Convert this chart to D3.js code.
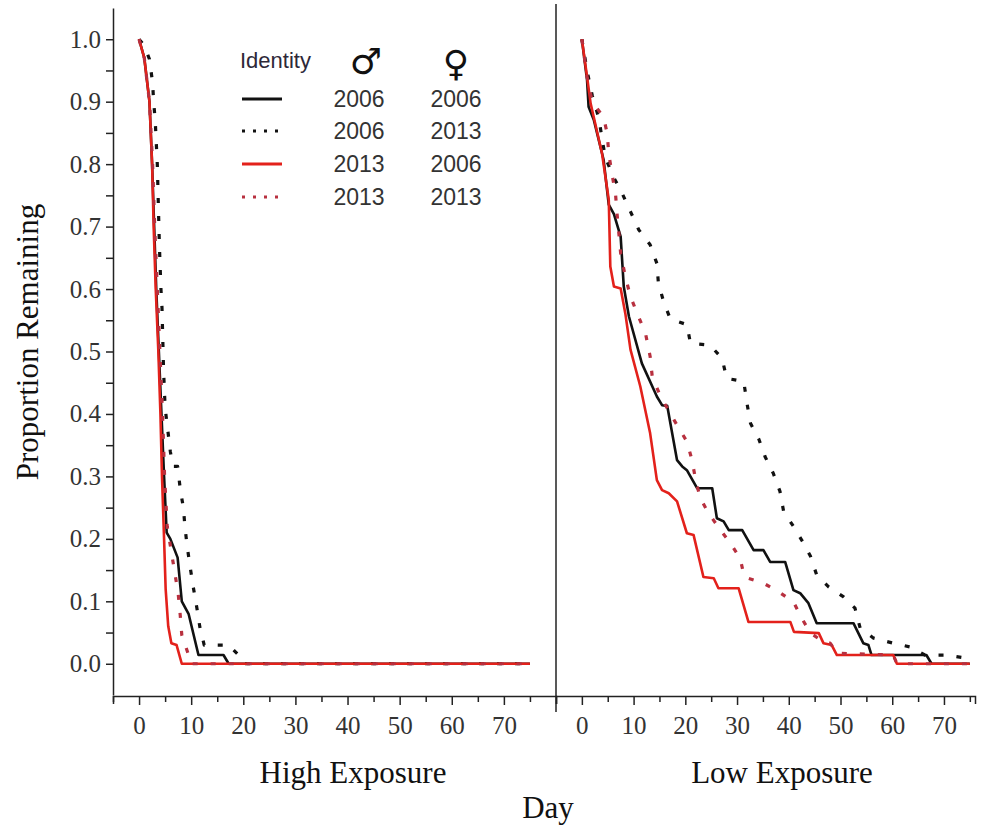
<!DOCTYPE html>
<html>
<head>
<meta charset="utf-8">
<script src="https://cdn.jsdelivr.net/npm/d3@7"></script>
<style>
  body { margin: 0; background: #fff; }
  .tick text { font-family: "Liberation Serif", serif; font-size: 25px; fill: #333; }
  .axis path, .axis line { stroke: #222; stroke-width: 1.5; }
</style>
</head>
<body>
<div id="chart"></div>
<script>
// survival curves: [day, proportion remaining]
var highSolidBlack = [[0,1],[1,0.97],[2,0.9],[2.5,0.8],[2.9,0.7],[3.3,0.6],[3.8,0.5],[4.3,0.4],[4.8,0.3],[5.3,0.21],[6,0.2],[7.4,0.17],[8.2,0.1],[9.5,0.08],[11.4,0.014],[16.2,0.014],[17.2,0],[75,0]];
var highDotBlack = [[0,1],[1,0.99],[2,0.968],[2.6,0.93],[2.8,0.9],[3.1,0.87],[3.5,0.8],[3.7,0.735],[3.9,0.67],[4.2,0.6],[4.4,0.57],[4.7,0.47],[5,0.41],[6,0.34],[6.5,0.316],[7.4,0.316],[7.9,0.28],[8.5,0.25],[8.8,0.22],[9.2,0.19],[9.8,0.155],[10.4,0.123],[11.1,0.089],[11.7,0.057],[12.5,0.03],[17.2,0.03],[19.7,0.009],[20.3,0],[75,0]];
var highSolidRed = [[0,1],[1,0.97],[2,0.9],[2.5,0.8],[2.8,0.7],[3.2,0.6],[3.7,0.5],[4.1,0.4],[4.4,0.3],[4.8,0.2],[5.1,0.12],[5.6,0.06],[6.2,0.033],[7.2,0.03],[8.2,0],[75,0]];
var highDotRed = [[0,1],[1,0.97],[2,0.9],[2.6,0.8],[3,0.7],[3.5,0.6],[4,0.5],[4.5,0.4],[4.9,0.3],[5.4,0.22],[6.3,0.174],[7.5,0.113],[7.9,0.078],[8.2,0.046],[9.5,0.014],[10,0],[75,0]];

var lowSolidBlack = [[0,1],[1,0.935],[1.3,0.892],[2.3,0.871],[4.2,0.807],[5.2,0.735],[6.2,0.72],[7.5,0.684],[8.1,0.604],[9.1,0.556],[11.6,0.481],[14.5,0.428],[15.5,0.414],[16.5,0.413],[18.4,0.326],[19.4,0.316],[20.3,0.31],[22.3,0.281],[25.2,0.281],[26.1,0.233],[27.4,0.228],[28.4,0.214],[31,0.214],[33.2,0.182],[35.1,0.182],[36.4,0.163],[39.3,0.163],[40.9,0.118],[42.2,0.113],[43.8,0.097],[45.4,0.065],[52.5,0.065],[54.4,0.033],[55.4,0.03],[56,0.014],[66.6,0.014],[67.6,0],[75,0]];
var lowDotBlack = [[0,1],[1,0.95],[2,0.91],[3.3,0.873],[3.9,0.841],[4.5,0.812],[5.9,0.783],[7.8,0.753],[9.4,0.724],[11,0.695],[13.2,0.671],[14.5,0.641],[14.8,0.609],[15.8,0.58],[17.1,0.552],[20.3,0.543],[21,0.513],[24.8,0.51],[27.1,0.489],[28,0.457],[31.3,0.452],[31.9,0.418],[32.6,0.385],[34.2,0.36],[35.4,0.332],[37,0.305],[38.3,0.276],[39,0.244],[40.9,0.22],[42.5,0.198],[44.2,0.172],[45.4,0.142],[47.7,0.123],[50.6,0.107],[52.8,0.089],[53.8,0.057],[56.4,0.041],[60.2,0.033],[63.4,0.027],[66.3,0.014],[70.5,0.014],[74.4,0.009]];
var lowSolidRed = [[0,1],[1,0.94],[1.7,0.897],[3.9,0.817],[5.2,0.743],[5.5,0.636],[6.2,0.604],[7.5,0.601],[8.4,0.561],[9.4,0.503],[11.3,0.444],[13.2,0.369],[14.5,0.294],[15.5,0.278],[16.8,0.273],[18.4,0.26],[20.3,0.209],[21.6,0.206],[23.5,0.139],[25.5,0.137],[26.4,0.121],[30.3,0.121],[32.2,0.067],[40.3,0.067],[41,0.051],[45.8,0.049],[46.7,0.033],[48.3,0.03],[49.3,0.014],[60.2,0.014],[60.9,0],[75,0]];
var lowDotRed = [[0,1],[1,0.94],[2,0.9],[4.2,0.875],[4.9,0.849],[5.2,0.817],[5.8,0.785],[6.5,0.753],[6.8,0.721],[7.5,0.657],[8.4,0.62],[9.4,0.588],[10.7,0.561],[12.3,0.529],[13.2,0.492],[13.6,0.46],[15.2,0.428],[16.8,0.405],[18.4,0.382],[20.3,0.356],[21.3,0.326],[22,0.294],[22.9,0.265],[24.5,0.241],[26.8,0.214],[28.7,0.193],[30.6,0.169],[31.4,0.139],[35.1,0.129],[38.1,0.115],[40.9,0.099],[42.5,0.073],[44.2,0.049],[47.1,0.033],[48,0.033],[49.3,0.017],[60.2,0.014],[60.9,0],[75,0]];

var legendMale = ["2006", "2006", "2013", "2013"];
var legendFemale = ["2006", "2013", "2006", "2013"];

var yTicks = d3.range(0, 1.0001, 0.05);
var xTicks = d3.range(-5, 76, 5);

var width = 981, height = 826;
var svg = d3.select("#chart").append("svg")
  .attr("width", width)
  .attr("height", height);

var y = d3.scaleLinear().domain([-0.05, 1.05]).range([695, 8]);
var xHigh = d3.scaleLinear().domain([-5, 80]).range([113, 556]);
var xLow = d3.scaleLinear().domain([-5, 76]).range([556, 975]);

// solid black, dotted black, solid red, dotted red
var styles = [
  {color: "#111", dash: null, width: 2.6},
  {color: "#111", dash: "5,13", width: 3.2},
  {color: "#e3211b", dash: null, width: 2.6},
  {color: "#b8303f", dash: "5,13", width: 3.2}
];

// y axis
var yAxis = d3.axisLeft(y)
  .tickValues(yTicks)
  .tickSize(7)
  .tickPadding(5)
  .tickSizeOuter(0)
  .tickFormat(function(d) { return Math.round(d * 100) % 10 === 0 ? d3.format(".1f")(d) : ""; });
svg.append("g")
  .attr("class", "axis")
  .attr("transform", "translate(113,0)")
  .call(yAxis);

// x axes
function drawX(x, ticks) {
  var g = svg.append("g")
    .attr("class", "axis")
    .attr("transform", "translate(0,696)")
    .call(d3.axisBottom(x)
      .tickValues(ticks)
      .tickSizeOuter(0)
      .tickSize(8)
      .tickPadding(12)
      .tickFormat(function(d) { return d >= 0 && d % 10 === 0 ? d : ""; }));
  g.selectAll(".tick line")
    .attr("y2", function(d) { return d % 10 === 0 ? 9 : 6; });
}
drawX(xHigh, xTicks);
drawX(xLow, xTicks.filter(function(d) { return d >= 0; }));

// panel divider
svg.append("line")
  .attr("x1", 556).attr("x2", 556)
  .attr("y1", 4).attr("y2", 712)
  .attr("stroke", "#222").attr("stroke-width", 1.5);

function drawCurves(x, series) {
  var line = d3.line()
    .x(function(d) { return x(d[0]); })
    .y(function(d) { return y(d[1]); });
  series.forEach(function(s, i) {
    svg.append("path")
      .datum(s)
      .attr("fill", "none")
      .attr("stroke", styles[i].color)
      .attr("stroke-width", styles[i].width)
      .attr("stroke-dasharray", styles[i].dash)
      .attr("stroke-linejoin", "round")
      .attr("d", line);
  });
}
drawCurves(xHigh, [highSolidBlack, highDotBlack, highSolidRed, highDotRed]);
drawCurves(xLow, [lowSolidBlack, lowDotBlack, lowSolidRed, lowDotRed]);

// axis titles
var serif = "Liberation Serif, Times New Roman, serif";
function title(x, y, txt, rot) {
  svg.append("text")
    .attr("transform", "translate(" + x + "," + y + ")" + (rot ? " rotate(-90)" : ""))
    .attr("text-anchor", "middle")
    .style("font-family", serif).style("font-size", "31px").attr("fill", "#111")
    .text(txt);
}
title(38, 342, "Proportion Remaining", true);
title(353, 783, "High Exposure");
title(782, 783, "Low Exposure");
title(548, 818, "Day");

// legend
var sans = "Liberation Sans, Arial, sans-serif";
var leg = svg.append("g");
leg.append("text")
  .attr("x", 240).attr("y", 68)
  .style("font-family", sans).style("font-size", "22px").attr("fill", "#2e2838")
  .text("Identity");
leg.append("text")
  .attr("x", 366).attr("y", 74)
  .attr("text-anchor", "middle")
  .style("font-family", "DejaVu Sans, sans-serif").style("font-size", "36px").attr("fill", "#111")
  .text("\u2642");
leg.append("text")
  .attr("x", 456).attr("y", 76)
  .attr("text-anchor", "middle")
  .style("font-family", "DejaVu Sans, sans-serif").style("font-size", "36px").attr("fill", "#111")
  .text("\u2640");

var legendRows = [99, 131, 164, 197];
legendRows.forEach(function(ry, i) {
  leg.append("line")
    .attr("x1", 242).attr("x2", 282)
    .attr("y1", ry).attr("y2", ry)
    .attr("stroke", styles[i].color)
    .attr("stroke-width", 3)
    .attr("stroke-dasharray", styles[i].dash ? "3,8" : null);
  leg.append("text")
    .attr("x", 359).attr("y", ry + 8)
    .attr("text-anchor", "middle")
    .style("font-family", sans).style("font-size", "23px").attr("fill", "#333")
    .text(legendMale[i]);
  leg.append("text")
    .attr("x", 456).attr("y", ry + 8)
    .attr("text-anchor", "middle")
    .style("font-family", sans).style("font-size", "23px").attr("fill", "#333")
    .text(legendFemale[i]);
});
</script>
</body>
</html>
